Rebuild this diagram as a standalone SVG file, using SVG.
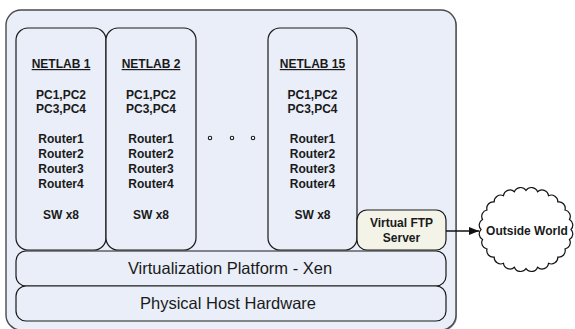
<svg xmlns="http://www.w3.org/2000/svg" width="575" height="329" viewBox="0 0 575 329">
  <style>
    .lab { fill: #e9eef8; stroke: #1a1a1a; stroke-width: 1.2; }
    .ftp { fill: #f3f3e8; stroke: #1a1a1a; stroke-width: 1.2; }
    .b { font-family: "Liberation Sans", Arial, sans-serif; font-weight: bold; font-size: 12px; fill: #1a1a1a; text-anchor: middle; }
    .n { font-family: "Liberation Sans", Arial, sans-serif; font-size: 16.5px; fill: #1a1a1a; text-anchor: middle; }
    .u { text-decoration: underline; }
    .dot { fill: #ffffff; stroke: #1a1a1a; stroke-width: 1.1; }
  </style>
  <defs>
    <marker id="arrow" viewBox="0 0 10 10" refX="10" refY="5" markerWidth="10" markerHeight="10" markerUnits="userSpaceOnUse" orient="auto">
      <path d="M0,1 L10,5 L0,9 z" fill="#111"/>
    </marker>
  </defs>

  <rect width="575" height="329" fill="#ffffff"/>

  <!-- host enclosure -->
  <g id="host">
    <rect x="7" y="11" width="450" height="320" rx="15" fill="#9a9a9a"/>
    <rect x="6" y="10" width="450" height="320" rx="15" fill="#e9eef8" stroke="#4a4a4a" stroke-width="1.4"/>
  </g>

  <g id="netlab1">
    <rect class="lab" x="16" y="28" width="90" height="222" rx="12"/>
    <text class="b u" x="61" y="68">NETLAB 1</text>
    <text class="b" x="61" y="99">PC1,PC2</text>
    <text class="b" x="61" y="113">PC3,PC4</text>
    <text class="b" x="61" y="143">Router1</text>
    <text class="b" x="61" y="158">Router2</text>
    <text class="b" x="61" y="173">Router3</text>
    <text class="b" x="61" y="188">Router4</text>
    <text class="b" x="61" y="219">SW x8</text>
  </g>

  <g id="netlab2">
    <rect class="lab" x="106" y="28" width="90" height="222" rx="12"/>
    <text class="b u" x="151" y="68">NETLAB 2</text>
    <text class="b" x="151" y="99">PC1,PC2</text>
    <text class="b" x="151" y="113">PC3,PC4</text>
    <text class="b" x="151" y="143">Router1</text>
    <text class="b" x="151" y="158">Router2</text>
    <text class="b" x="151" y="173">Router3</text>
    <text class="b" x="151" y="188">Router4</text>
    <text class="b" x="151" y="219">SW x8</text>
  </g>

  <g id="ellipsis">
    <circle class="dot" cx="210" cy="138" r="1.7"/>
    <circle class="dot" cx="232" cy="138" r="1.7"/>
    <circle class="dot" cx="253" cy="138" r="1.7"/>
  </g>

  <g id="netlab15">
    <rect class="lab" x="268" y="28" width="89" height="222" rx="12"/>
    <text class="b u" x="312.5" y="68">NETLAB 15</text>
    <text class="b" x="312.5" y="99">PC1,PC2</text>
    <text class="b" x="312.5" y="113">PC3,PC4</text>
    <text class="b" x="312.5" y="143">Router1</text>
    <text class="b" x="312.5" y="158">Router2</text>
    <text class="b" x="312.5" y="173">Router3</text>
    <text class="b" x="312.5" y="188">Router4</text>
    <text class="b" x="312.5" y="219">SW x8</text>
  </g>

  <g id="ftp-server">
    <rect class="ftp" x="357" y="210" width="89" height="40" rx="10"/>
    <text class="b" x="401.5" y="227">Virtual FTP</text>
    <text class="b" x="401.5" y="242">Server</text>
  </g>

  <g id="virtualization">
    <rect class="lab" x="16" y="251" width="430" height="35" rx="10"/>
    <text class="n" x="230" y="274">Virtualization Platform  - Xen</text>
  </g>

  <g id="hardware">
    <rect class="lab" x="16" y="286" width="430" height="35" rx="10"/>
    <text class="n" x="228" y="309">Physical Host Hardware</text>
  </g>

  <g id="outside-world">
    <path fill="#ffffff" stroke="#111" stroke-width="1.2" d="M571,229.5 A6.5,6.5 0 0 1 569.5,239.6 A6.5,6.5 0 0 1 565,249 A6.5,6.5 0 0 1 557.8,257.1 A6.5,6.5 0 0 1 548.5,263.3 A6.5,6.5 0 0 1 537.6,267.2 A6.5,6.5 0 0 1 526,268.5 A6.5,6.5 0 0 1 514.4,267.2 A6.5,6.5 0 0 1 503.5,263.3 A6.5,6.5 0 0 1 494.2,257.1 A6.5,6.5 0 0 1 487,249 A6.5,6.5 0 0 1 482.5,239.6 A6.5,6.5 0 0 1 481,229.5 A6.5,6.5 0 0 1 482.5,219.4 A6.5,6.5 0 0 1 487,210 A6.5,6.5 0 0 1 494.2,201.9 A6.5,6.5 0 0 1 503.5,195.7 A6.5,6.5 0 0 1 514.4,191.8 A6.5,6.5 0 0 1 526,190.5 A6.5,6.5 0 0 1 537.6,191.8 A6.5,6.5 0 0 1 548.5,195.7 A6.5,6.5 0 0 1 557.8,201.9 A6.5,6.5 0 0 1 565,210 A6.5,6.5 0 0 1 569.5,219.4 A6.5,6.5 0 0 1 571,229.5 Z"/>
    <text class="b" x="527" y="235">Outside World</text>
  </g>

  <g id="connectors">
    <line x1="446" y1="231" x2="479" y2="231" stroke="#111" stroke-width="1.3" marker-end="url(#arrow)"/>
  </g>
</svg>
